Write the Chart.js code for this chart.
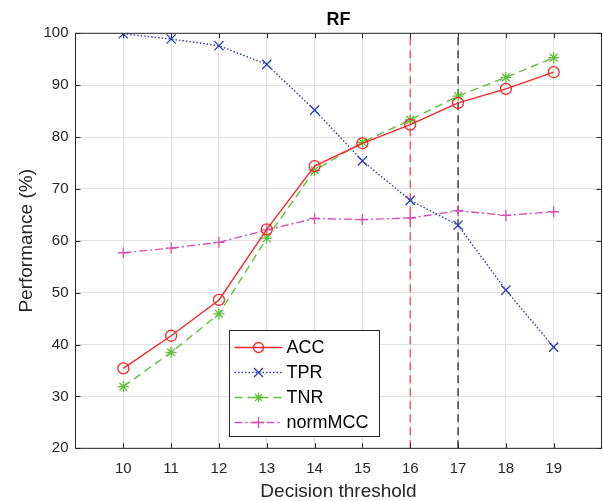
<!DOCTYPE html>
<html>
<head>
<meta charset="utf-8">
<script src="https://cdn.jsdelivr.net/npm/chart.js@4/dist/chart.umd.min.js"></script>
<style>
  html, body { margin: 0; padding: 0; background: #fff; }
  #wrap { width: 603px; height: 501px; position: relative; }
</style>
</head>
<body>
<div id="wrap"><canvas id="rfChart"></canvas></div>
<script>
// Data
const thresholds = [10, 11, 12, 13, 14, 15, 16, 17, 18, 19];
const accValues = [35.4, 41.7, 48.6, 62.2, 74.4, 78.8, 82.4, 86.6, 89.3, 92.5];
const tprValues = [99.9, 98.9, 97.6, 94.0, 85.2, 75.4, 67.8, 63.0, 50.5, 39.5];
const tnrValues = [31.9, 38.5, 45.9, 60.5, 73.6, 79.0, 83.3, 87.9, 91.5, 95.3];
const normMccValues = [57.7, 58.6, 59.7, 62.1, 64.3, 64.1, 64.4, 65.8, 64.9, 65.6];

// Vertical reference thresholds
const redCutoff = 16;
const blackCutoff = 17;

const xTicks = [10, 11, 12, 13, 14, 15, 16, 17, 18, 19];
const yTicks = [20, 30, 40, 50, 60, 70, 80, 90, 100];
const xRange = [9, 20];
const yRange = [20, 100];

const FONT = '"Liberation Sans", Arial, Helvetica, sans-serif';
const AXIS_COLOR = '#262626';

const colors = {
    acc: 'rgb(245, 40, 40)',
    tpr: 'rgb(45, 60, 175)',
    tnr: 'rgb(95, 190, 60)',
    mcc: 'rgb(210, 80, 180)',
    redLine: 'rgb(250, 70, 70)',
    blackLine: 'rgb(40, 40, 40)'
};

function toPoints(values) {
    return thresholds.map((t, i) => ({ x: t, y: values[i] }));
}

function vline(x) {
    return yRange.map(y => ({ x: x, y: y }));
}

// radius = chart.js point radius, legendSize = half size in legend
const seriesInfo = [
    { label: 'ACC', data: accValues, color: colors.acc, dash: [], style: 'circle', radius: 5.5, legendSize: 5 },
    { label: 'TPR', data: tprValues, color: colors.tpr, dash: [1.5, 2], style: 'crossRot', radius: 6.5, legendSize: 4.5 },
    { label: 'TNR', data: tnrValues, color: colors.tnr, dash: [8, 5], style: 'star', radius: 5.5, legendSize: 5 },
    { label: 'normMCC', data: normMccValues, color: colors.mcc, dash: [8, 3, 2, 3], style: 'cross', radius: 5.5, legendSize: 5.5 }
];

const datasets = seriesInfo.map(s => ({
    label: s.label,
    data: toPoints(s.data),
    borderColor: s.color,
    borderWidth: 1.4,
    borderDash: s.dash,
    pointStyle: s.style,
    pointRadius: s.radius,
    pointBorderColor: s.color,
    pointBackgroundColor: 'rgba(0,0,0,0)',
    pointBorderWidth: 1.3,
    tension: 0,
    fill: false
}));

datasets.push({
    label: 'cutoff16',
    data: vline(redCutoff),
    borderColor: colors.redLine,
    borderWidth: 1.3,
    borderDash: [8, 5],
    pointRadius: 0,
    fill: false
});
datasets.push({
    label: 'cutoff17',
    data: vline(blackCutoff),
    borderColor: colors.blackLine,
    borderWidth: 1.3,
    borderDash: [8, 5],
    pointRadius: 0,
    fill: false
});

/**
 * MATLAB style box with inward ticks, plus the title over the axes
 */
const boxPlugin = {
    id: 'matlabBox',
    afterDatasetsDraw(chart) {
        const { ctx, chartArea, scales } = chart;
        const { left, right, top, bottom } = chartArea;
        ctx.save();
        ctx.strokeStyle = AXIS_COLOR;
        ctx.lineWidth = 1;
        ctx.strokeRect(left, top, right - left, bottom - top);
        ctx.beginPath();
        xTicks.forEach(v => {
            const px = Math.round(scales.x.getPixelForValue(v)) + 0.5;
            ctx.moveTo(px, bottom); ctx.lineTo(px, bottom - 5);
            ctx.moveTo(px, top); ctx.lineTo(px, top + 5);
        });
        yTicks.forEach(v => {
            const py = Math.round(scales.y.getPixelForValue(v)) + 0.5;
            ctx.moveTo(left, py); ctx.lineTo(left + 5, py);
            ctx.moveTo(right, py); ctx.lineTo(right - 5, py);
        });
        ctx.stroke();

        ctx.fillStyle = '#000';
        ctx.font = 'bold 18px ' + FONT;
        ctx.textAlign = 'center';
        ctx.textBaseline = 'middle';
        ctx.fillText('RF', (left + right) / 2, 20);
        ctx.restore();
    }
};

// small marker painter for the legend
function drawMarker(ctx, style, x, y, r) {
    ctx.beginPath();
    if (style === 'circle') {
        ctx.arc(x, y, r, 0, Math.PI * 2);
    } else if (style === 'crossRot') {
        ctx.moveTo(x - r, y - r); ctx.lineTo(x + r, y + r);
        ctx.moveTo(x - r, y + r); ctx.lineTo(x + r, y - r);
    } else if (style === 'cross') {
        ctx.moveTo(x - r, y); ctx.lineTo(x + r, y);
        ctx.moveTo(x, y - r); ctx.lineTo(x, y + r);
    } else if (style === 'star') {
        ctx.moveTo(x - r, y); ctx.lineTo(x + r, y);
        ctx.moveTo(x, y - r); ctx.lineTo(x, y + r);
        const d = r * 0.707;
        ctx.moveTo(x - d, y - d); ctx.lineTo(x + d, y + d);
        ctx.moveTo(x - d, y + d); ctx.lineTo(x + d, y - d);
    }
    ctx.stroke();
}

/**
 * Legend box inside the axes (bottom middle-left)
 */
const legendPlugin = {
    id: 'insideLegend',
    afterDraw(chart) {
        const ctx = chart.ctx;
        const box = { x: 229.5, y: 330.5, w: 150, h: 106 };
        ctx.save();
        ctx.fillStyle = '#fff';
        ctx.fillRect(box.x, box.y, box.w, box.h);
        ctx.strokeStyle = AXIS_COLOR;
        ctx.lineWidth = 1;
        ctx.strokeRect(box.x, box.y, box.w, box.h);

        seriesInfo.forEach((s, i) => {
            const rowY = box.y + 17 + i * 25;
            ctx.strokeStyle = s.color;
            ctx.lineWidth = 1.3;
            ctx.setLineDash(s.dash);
            ctx.beginPath();
            ctx.moveTo(box.x + 5, rowY);
            ctx.lineTo(box.x + 53, rowY);
            ctx.stroke();
            ctx.setLineDash([]);
            drawMarker(ctx, s.style, box.x + 29, rowY, s.legendSize);

            ctx.fillStyle = '#000';
            ctx.font = '18px ' + FONT;
            ctx.textAlign = 'left';
            ctx.textBaseline = 'middle';
            ctx.fillText(s.label, box.x + 57, rowY + 1);
        });
        ctx.restore();
    }
};

new Chart(document.getElementById('rfChart'), {
    type: 'line',
    data: { datasets: datasets },
    options: {
        responsive: true,
        maintainAspectRatio: false,
        animation: false,
        layout: {
            autoPadding: false,
            padding: { left: 0, right: 1.5, top: 33.3, bottom: 0 }
        },
        plugins: {
            legend: { display: false },
            tooltip: { enabled: false },
            title: { display: false }
        },
        scales: {
            x: {
                type: 'linear',
                min: xRange[0],
                max: xRange[1],
                afterBuildTicks: scale => { scale.ticks = xTicks.map(v => ({ value: v })); },
                afterFit: scale => {
                    scale.height = 52.7;
                    scale.paddingLeft = 0;
                    scale.paddingRight = 0;
                },
                grid: { color: '#e0e0e0', lineWidth: 1, drawTicks: false },
                border: { display: false },
                ticks: {
                    color: AXIS_COLOR,
                    font: { family: FONT, size: 15 },
                    padding: 12,
                    maxRotation: 0,
                    autoSkip: false
                },
                title: {
                    display: true,
                    text: 'Decision threshold',
                    color: AXIS_COLOR,
                    font: { family: FONT, size: 19, lineHeight: 1 },
                    padding: { top: 0, bottom: 0 }
                }
            },
            y: {
                type: 'linear',
                min: yRange[0],
                max: yRange[1],
                afterBuildTicks: scale => { scale.ticks = yTicks.map(v => ({ value: v })); },
                afterFit: scale => { scale.width = 75.5; },
                grid: { color: '#e0e0e0', lineWidth: 1, drawTicks: false },
                border: { display: false },
                ticks: {
                    color: AXIS_COLOR,
                    font: { family: FONT, size: 15 },
                    padding: 7,
                    autoSkip: false
                },
                title: {
                    display: true,
                    text: 'Performance (%)',
                    color: AXIS_COLOR,
                    font: { family: FONT, size: 19, lineHeight: 1 },
                    padding: { top: 17, bottom: 0 }
                }
            }
        }
    },
    plugins: [boxPlugin, legendPlugin]
});
</script>
</body>
</html>
